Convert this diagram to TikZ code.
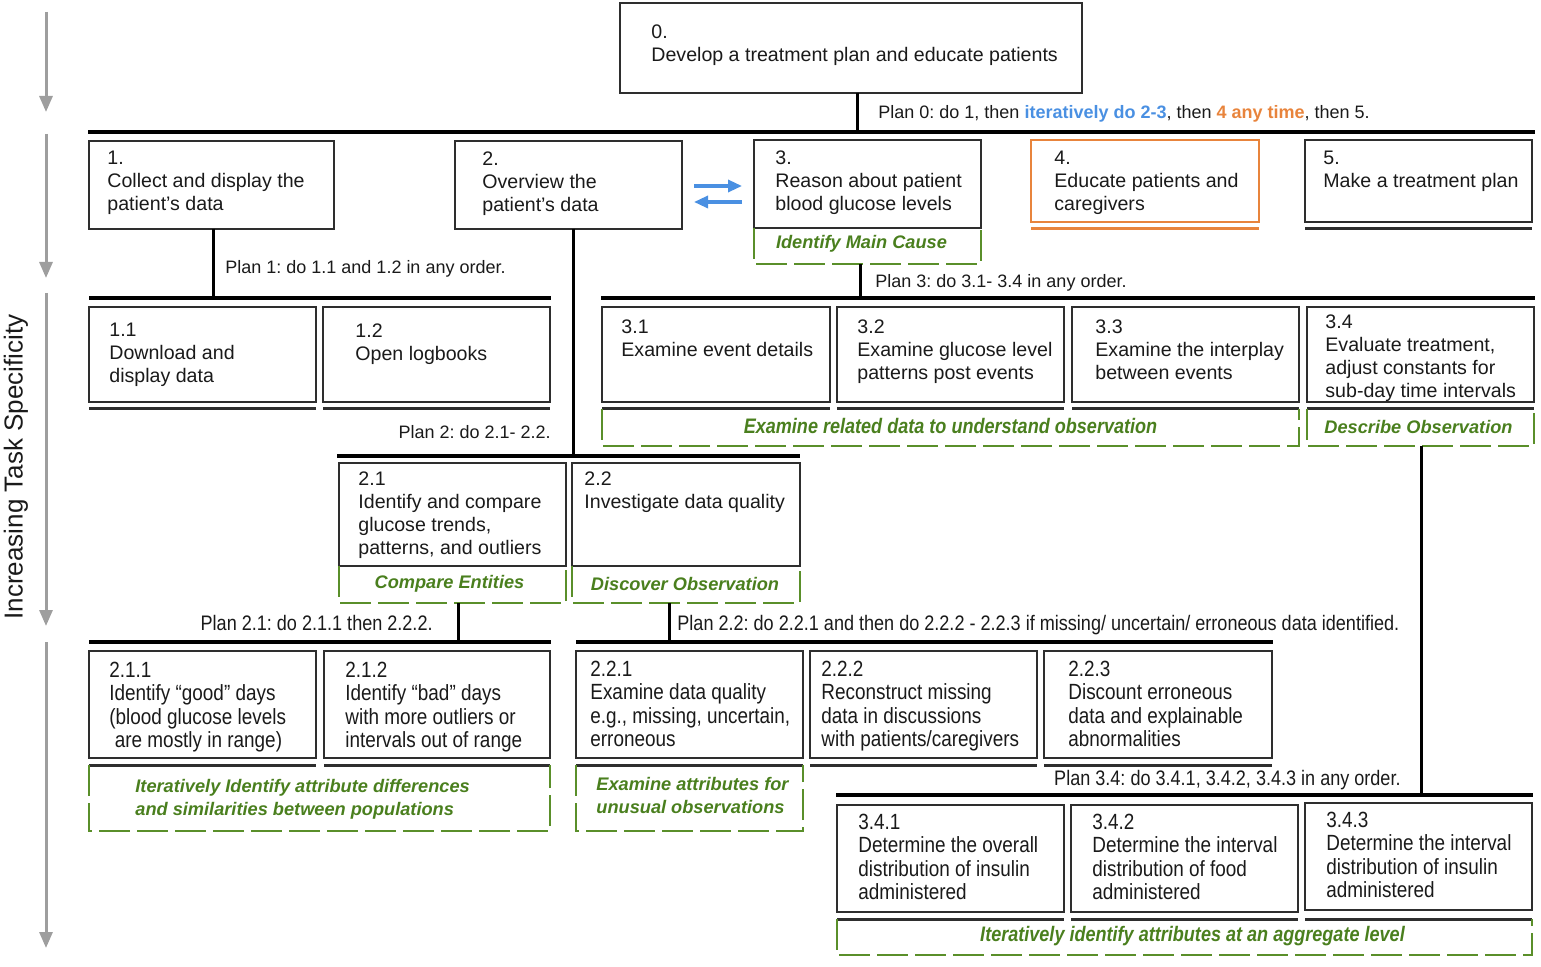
\documentclass[tikz,border=0pt]{standalone}
\usepackage{fontspec}
\setmainfont{Liberation Sans}
\newfontfamily\condfont[FakeStretch=0.86]{Liberation Sans}
\usetikzlibrary{arrows.meta,fit,calc}
\frenchspacing

\definecolor{ink}{HTML}{1A1A1A}
\definecolor{boxline}{HTML}{2E2E2E}
\definecolor{gline}{HTML}{5A8F2A}
\definecolor{gtext}{HTML}{4A7F1E}
\definecolor{oline}{HTML}{E8843C}
\definecolor{bline}{HTML}{4A90E2}
\definecolor{axisgray}{HTML}{9E9E9E}

\tikzset{
  taskbox/.style={draw=boxline, line width=1.2pt, inner sep=0pt, outer sep=0pt},
  orangebox/.style={taskbox, draw=oline},
  gbox/.style={inner sep=0pt, outer sep=0pt},
  txt/.style={anchor=north west, inner sep=0pt, align=left, text=ink,
    font=\fontsize{9.8}{11.5}\selectfont},
  ctxt/.style={anchor=north west, inner sep=0pt, align=left, text=ink,
    font=\condfont\fontsize{11}{11.6}\selectfont},
  plantxt/.style={inner sep=0pt, text=ink, font=\fontsize{9}{11}\selectfont},
  cplantxt/.style={inner sep=0pt, text=ink, font=\condfont\fontsize{10.5}{11}\selectfont},
  glabel/.style={inner sep=0pt, text=gtext, align=left,
    font=\fontsize{9.1}{11.5}\selectfont\bfseries\itshape},
  cglabel/.style={inner sep=0pt, text=gtext,
    font=\condfont\fontsize{10.5}{11.5}\selectfont\bfseries\itshape},
  gdash/.style={draw=gline, line width=1.1pt, dash pattern=on 15.5pt off 3.5pt},
  bar/.style={draw=black, line width=1.75pt},
  conn/.style={draw=black, line width=1.5pt},
  underline/.style={draw=boxline, line width=1.5pt},
  levelarrow/.style={draw=axisgray, line width=1.5pt,
    -{Triangle[length=8pt,width=6.5pt]}},
  cyclearrow/.style={draw=bline, line width=1.6pt,
    -{Triangle[length=7pt,width=6pt]}},
}

% line under a leaf task
\newcommand\taskunder[2][boxline]{%
  \draw[underline, draw=#1] ([yshift=-3.5pt]#2.south west) -- ([yshift=-3.5pt]#2.south east);}
% dashed green frame on the left, bottom and right of an activity label
\newcommand\greenframe[1]{%
  \draw[gdash] (#1.north west) -- (#1.south west) -- (#1.south east) -- (#1.north east);}

\begin{document}
\begin{tikzpicture}[x=0.5pt, y=-0.5pt]
\useasboundingbox (0,0) rectangle (1541,967);

% ---------- specificity axis ----------
\draw[levelarrow] (46,12) -- (46,112);
\draw[levelarrow] (46,134) -- (46,278);
\draw[levelarrow] (46,293) -- (46,626);
\draw[levelarrow] (46,642) -- (46,948);
\node[rotate=90, inner sep=0pt, text=ink, font=\fontsize{13}{15}\selectfont] (axislabel)
  at (16,467) {Increasing Task Specificity};

% ---------- level 0 ----------
\node[taskbox, fit={(620,3) (1082,93)}] (t0) {};
\node[txt] (t0txt) at (651,24) {0.\\Develop a treatment plan and educate patients};

\coordinate (b0l) at (88,132);
\coordinate (b0r) at (1535,132);
\draw[bar] (b0l) -- (b0r);
\draw[conn] ($(t0.south)+(6,0)$) coordinate (c0) -- (c0 |- b0l);
\node[plantxt, anchor=base west] (plan0) at (878,118.5)
  {Plan 0: do 1, then {\color{bline}\bfseries iteratively do 2-3}, then {\color{oline}\bfseries 4 any time}, then 5.};

% ---------- level 1 ----------
\node[taskbox, fit={(89,141) (334,229)}] (t1) {};
\node[txt] at (107,151) {1.\\Collect and display the\\patient’s data};

\node[taskbox, fit={(455,141) (682,229)}] (t2) {};
\node[txt] at (482,151) {2.\\Overview the\\patient’s data};

\node[taskbox, fit={(754,140) (981,228)}] (t3) {};
\node[txt] at (775,150) {3.\\Reason about patient\\blood glucose levels};
\node[gbox, fit={(754,228) (981,264)}] (g3) {};
\greenframe{g3}
\node[glabel] at ($(g3.center)+(-6,-2)$) {Identify Main Cause};

\node[orangebox, fit={(1031,140) (1259,222)}] (t4) {};
\node[txt] at (1054,151) {4.\\Educate patients and\\caregivers};
\taskunder[oline]{t4}

\node[taskbox, fit={(1305,140) (1532,222)}] (t5) {};
\node[txt] at (1323,151) {5.\\Make a treatment plan};
\taskunder{t5}

% iteration between 2 and 3
\draw[cyclearrow] ($(t2.east)+(12,1)$) -- ($(t3.west)+(-12,2)$);
\draw[cyclearrow] ($(t3.west)+(-12,18)$) -- ($(t2.east)+(12,17)$);

% ---------- plan 1 ----------
\coordinate (b1l) at (89,298);
\coordinate (b1r) at (551,298);
\draw[bar] (b1l) -- (b1r);
\draw[conn] ($(t1.south)+(1.5,0)$) coordinate (c1) -- (c1 |- b1l);
\node[plantxt, anchor=base west] (plan1) at (225,273.5) {Plan 1: do 1.1 and 1.2 in any order.};

\node[taskbox, fit={(89,307) (316,402)}] (t11) {};
\node[txt] at (109,323) {1.1\\Download and\\display data};
\taskunder{t11}
\node[taskbox, fit={(323,307) (550,402)}] (t12) {};
\node[txt] at (355,323) {1.2\\Open logbooks};
\taskunder{t12}

% ---------- plan 2 ----------
\coordinate (b2l) at (337,456);
\coordinate (b2r) at (800,456);
\draw[bar] (b2l) -- (b2r);
\draw[conn] ($(t2.south)+(4.5,0)$) coordinate (c2) -- (c2 |- b2l);
\node[plantxt, anchor=base east] (plan2) at (551,438.5) {Plan 2: do 2.1- 2.2.};

\node[taskbox, fit={(339,463) (566,566)}] (t21) {};
\node[txt] at (358,471) {2.1\\Identify and compare\\glucose trends,\\patterns, and outliers};
\node[gbox, fit={(339,566) (566,603)}] (g21) {};
\greenframe{g21}
\node[glabel] at ($(g21.center)+(-3,-1)$) {Compare Entities};

\node[taskbox, fit={(572,463) (800,566)}] (t22) {};
\node[txt] at (584,471) {2.2\\Investigate data quality};
\node[gbox, fit={(572,566) (800,603)}] (g22) {};
\greenframe{g22}
\node[glabel] at ($(g22.center)+(-1,-1)$) {Discover Observation};

% ---------- plan 2.1 ----------
\coordinate (b21l) at (89,642);
\coordinate (b21r) at (551,642);
\draw[bar] (b21l) -- (b21r);
\draw[conn] ($(g21.south)+(5.5,0)$) coordinate (c21) -- (c21 |- b21l);
\node[cplantxt, anchor=base east] (plan21) at (433,630.5) {Plan 2.1: do 2.1.1 then 2.2.2.};

\node[taskbox, fit={(89,651) (316,758)}] (t211) {};
\node[ctxt] at (109,662) {2.1.1\\Identify “good” days\\(blood glucose levels\\\hspace*{0.25em}are mostly in range)};
\taskunder{t211}
\node[taskbox, fit={(324,651) (550,758)}] (t212) {};
\node[ctxt] at (345,662) {2.1.2\\Identify “bad” days\\with more outliers or\\intervals out of range};
\taskunder{t212}
\node[gbox, fit={(89,765) (550,831)}] (g211) {};
\greenframe{g211}
\node[glabel, anchor=north west] at (135,779) {Iteratively Identify attribute differences\\and similarities between populations};

% ---------- plan 2.2 ----------
\coordinate (b22l) at (576,642);
\coordinate (b22r) at (1273,642);
\draw[bar] (b22l) -- (b22r);
\draw[conn] ($(g22.south)+(-17,0)$) coordinate (c22) -- (c22 |- b22l);
\node[cplantxt, anchor=base west] (plan22) at (677,630.5)
  {Plan 2.2: do 2.2.1 and then do 2.2.2 - 2.2.3 if missing/ uncertain/ erroneous data identified.};

\node[taskbox, fit={(576,651) (803,758)}] (t221) {};
\node[ctxt] at (590,661) {2.2.1\\Examine data quality\\e.g., missing, uncertain,\\erroneous};
\taskunder{t221}
\node[taskbox, fit={(810,651) (1037,758)}] (t222) {};
\node[ctxt] at (821,661) {2.2.2\\Reconstruct missing\\data in discussions\\with patients/caregivers};
\taskunder{t222}
\node[taskbox, fit={(1044,651) (1272,758)}] (t223) {};
\node[ctxt] at (1068,661) {2.2.3\\Discount erroneous\\data and explainable\\abnormalities};
\taskunder{t223}
\node[gbox, fit={(576,765) (803,831)}] (g221) {};
\greenframe{g221}
\node[glabel, anchor=north west] at (596,777) {Examine attributes for\\unusual observations};

% ---------- plan 3 ----------
\coordinate (b3l) at (601,298);
\coordinate (b3r) at (1535,298);
\draw[bar] (b3l) -- (b3r);
\draw[conn] ($(g3.south)+(-7.5,0)$) coordinate (c3) -- (c3 |- b3l);
\node[plantxt, anchor=base west] (plan3) at (875,287.5) {Plan 3: do 3.1- 3.4 in any order.};

\node[taskbox, fit={(602,307) (830,402)}] (t31) {};
\node[txt] at (621,319) {3.1\\Examine event details};
\taskunder{t31}
\node[taskbox, fit={(837,307) (1064,402)}] (t32) {};
\node[txt] at (857,319) {3.2\\Examine glucose level\\patterns post events};
\taskunder{t32}
\node[taskbox, fit={(1072,307) (1299,402)}] (t33) {};
\node[txt] at (1095,319) {3.3\\Examine the interplay\\between events};
\taskunder{t33}
\node[taskbox, fit={(1307,307) (1534,402)}] (t34) {};
\node[txt] at (1325,314) {3.4\\Evaluate treatment,\\adjust constants for\\sub-day time intervals};
\taskunder{t34}

\node[gbox, fit={(602,409) (1299,446)}] (g31) {};
\greenframe{g31}
\node[cglabel] at ($(g31.center)+(0,-1)$) {Examine related data to understand observation};
\node[gbox, fit={(1307,409) (1534,446)}] (g34) {};
\greenframe{g34}
\node[glabel] at ($(g34.center)+(-2,-1)$) {Describe Observation};

% ---------- plan 3.4 ----------
\coordinate (b34l) at (836,795);
\coordinate (b34r) at (1533,795);
\draw[bar] (b34l) -- (b34r);
\draw[conn] ($(g34.south)+(0.5,0)$) coordinate (c34) -- (c34 |- b34l);
\node[cplantxt, anchor=base east] (plan34) at (1401,785.5) {Plan 3.4: do 3.4.1, 3.4.2, 3.4.3 in any order.};

\node[taskbox, fit={(837,805) (1064,912)}] (t341) {};
\node[ctxt] at (858,814) {3.4.1\\Determine the overall\\distribution of insulin\\administered};
\taskunder{t341}
\node[taskbox, fit={(1071,805) (1298,912)}] (t342) {};
\node[ctxt] at (1092,814) {3.4.2\\Determine the interval\\distribution of food\\administered};
\taskunder{t342}
\node[taskbox, fit={(1305,803) (1532,910)}] (t343) {};
\node[ctxt] at (1326,812) {3.4.3\\Determine the interval\\distribution of insulin\\administered};
\node[gbox, fit={(837,919) (1532,955)}] (g341) {};
\draw[underline] ([yshift=-4.5pt]t343.south west) -- ([yshift=-4.5pt]t343.south east);
\greenframe{g341}
\node[cglabel] at ($(g341.center)+(8,-1)$) {Iteratively identify attributes at an aggregate level};

\end{tikzpicture}
\end{document}
